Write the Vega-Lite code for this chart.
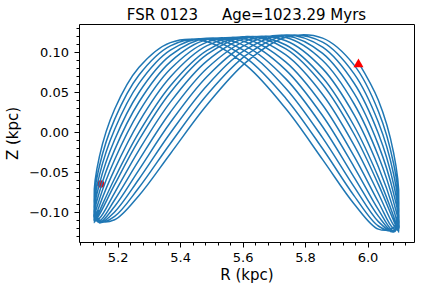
{
"$schema": "https://vega.github.io/schema/vega-lite/v6.json",
"width": 335, "height": 218,
"autosize": "none",
"padding": {"left": 79, "top": 24, "right": 7, "bottom": 48},
"title": {"text": "FSR 0123\u00a0\u00a0\u00a0\u00a0\u00a0Age=1023.29 Myrs", "fontSize": 15, "fontWeight": "normal", "font": "DejaVu Sans", "color": "#000", "anchor": "middle", "frame": "group", "offset": 5, "baseline": "alphabetic", "dy": 16},
"config": {
 "font": "DejaVu Sans",
 "view": {"stroke": "#000", "strokeWidth": 1},
 "axis": {"grid": false, "domain": false, "tickColor": "#000", "tickWidth": 1, "labelColor": "#000", "labelFontSize": 13, "labelFont": "DejaVu Sans", "titleFont": "DejaVu Sans", "titleFontSize": 15, "titleFontWeight": "normal", "titleColor": "#000"}
},
"datasets": {
 "marks": [{"kind": "start", "R": 5.146, "z": -0.0646}, {"kind": "end", "R": 5.971, "z": 0.0868}],
 "orbit": [
{"n":23,"R":5.1416,"z":-0.097},{"n":24,"R":5.125,"z":-0.113},{"n":25,"R":5.1416,"z":-0.0987},{"n":26,"R":5.1903,"z":-0.0577},{"n":27,"R":5.2678,"z":-0.0004},{"n":28,"R":5.3688,"z":0.0582},{"n":29,"R":5.4863,"z":0.1024},{"n":30,"R":5.6125,"z":0.1198},{"n":31,"R":5.7387,"z":0.1044},{"n":32,"R":5.8563,"z":0.0598},{"n":33,"R":5.9572,"z":-0.0024},{"n":34,"R":6.0347,"z":-0.0651},{"n":35,"R":6.0834,"z":-0.1101},{"n":36,"R":6.1,"z":-0.1249},{"n":37,"R":6.0834,"z":-0.1049},{"n":38,"R":6.0347,"z":-0.056},{"n":39,"R":5.9572,"z":0.0079},{"n":40,"R":5.8563,"z":0.0685},{"n":41,"R":5.7387,"z":0.1092},{"n":42,"R":5.6125,"z":0.1195},{"n":43,"R":5.4863,"z":0.0973},{"n":44,"R":5.3688,"z":0.0498},{"n":45,"R":5.2678,"z":-0.0098},{"n":46,"R":5.1903,"z":-0.0655},{"n":47,"R":5.1416,"z":-0.1029},
{"n":48,"R":5.125,"z":-0.1125},{"n":49,"R":5.1416,"z":-0.0918},{"n":50,"R":5.1903,"z":-0.0463},{"n":51,"R":5.2678,"z":0.0125},{"n":52,"R":5.3688,"z":0.0691},{"n":53,"R":5.4863,"z":0.1083},{"n":54,"R":5.6125,"z":0.1189},{"n":55,"R":5.7387,"z":0.0967},{"n":56,"R":5.8563,"z":0.0473},{"n":57,"R":5.9572,"z":-0.0163},{"n":58,"R":6.0347,"z":-0.0765},{"n":59,"R":6.0834,"z":-0.1161},{"n":60,"R":6.1,"z":-0.1235},{"n":61,"R":6.0834,"z":-0.0966},{"n":62,"R":6.0347,"z":-0.043},{"n":63,"R":5.9572,"z":0.0218},{"n":64,"R":5.8563,"z":0.0796},{"n":65,"R":5.7387,"z":0.1145},{"n":66,"R":5.6125,"z":0.1178},{"n":67,"R":5.4863,"z":0.0893},{"n":68,"R":5.3688,"z":0.0377},{"n":69,"R":5.2678,"z":-0.0226},{"n":70,"R":5.1903,"z":-0.0756},{"n":71,"R":5.1416,"z":-0.1076},
{"n":72,"R":5.125,"z":-0.1105},{"n":73,"R":5.1416,"z":-0.0838},{"n":74,"R":5.1903,"z":-0.0343},{"n":75,"R":5.2678,"z":0.0252},{"n":76,"R":5.3688,"z":0.0791},{"n":77,"R":5.4863,"z":0.1128},{"n":78,"R":5.6125,"z":0.1164},{"n":79,"R":5.7387,"z":0.0878},{"n":80,"R":5.8563,"z":0.0342},{"n":81,"R":5.9572,"z":-0.03},{"n":82,"R":6.0347,"z":-0.0871},{"n":83,"R":6.0834,"z":-0.1205},{"n":84,"R":6.1,"z":-0.1205},{"n":85,"R":6.0834,"z":-0.087},{"n":86,"R":6.0347,"z":-0.0296},{"n":87,"R":5.9572,"z":0.0354},{"n":88,"R":5.8563,"z":0.0897},{"n":89,"R":5.7387,"z":0.1184},{"n":90,"R":5.6125,"z":0.1146},{"n":91,"R":5.4863,"z":0.08},{"n":92,"R":5.3688,"z":0.0251},{"n":93,"R":5.2678,"z":-0.0351},{"n":94,"R":5.1903,"z":-0.0846},{"n":95,"R":5.1416,"z":-0.1108},
{"n":96,"R":5.125,"z":-0.1072},{"n":97,"R":5.1416,"z":-0.0748},{"n":98,"R":5.1903,"z":-0.0219},{"n":99,"R":5.2678,"z":0.0376},{"n":100,"R":5.3688,"z":0.0881},{"n":101,"R":5.4863,"z":0.1159},{"n":102,"R":5.6125,"z":0.1125},{"n":103,"R":5.7387,"z":0.0778},{"n":104,"R":5.8563,"z":0.0207},{"n":105,"R":5.9572,"z":-0.0434},{"n":106,"R":6.0347,"z":-0.0966},{"n":107,"R":6.0834,"z":-0.1234},{"n":108,"R":6.1,"z":-0.116},{"n":109,"R":6.0834,"z":-0.0763},{"n":110,"R":6.0347,"z":-0.0157},{"n":111,"R":5.9572,"z":0.0486},{"n":112,"R":5.8563,"z":0.0986},{"n":113,"R":5.7387,"z":0.1208},{"n":114,"R":5.6125,"z":0.11},{"n":115,"R":5.4863,"z":0.0698},{"n":116,"R":5.3688,"z":0.0122},{"n":117,"R":5.2678,"z":-0.0472},{"n":118,"R":5.1903,"z":-0.0927},{"n":119,"R":5.1416,"z":-0.1127},
{"n":120,"R":5.125,"z":-0.1025},{"n":121,"R":5.1416,"z":-0.0648},{"n":122,"R":5.1903,"z":-0.0093},{"n":123,"R":5.2678,"z":0.0495},{"n":124,"R":5.3688,"z":0.0961},{"n":125,"R":5.4863,"z":0.1175},{"n":126,"R":5.6125,"z":0.1072},{"n":127,"R":5.7387,"z":0.0668},{"n":128,"R":5.8563,"z":0.007},{"n":129,"R":5.9572,"z":-0.0562},{"n":130,"R":6.0347,"z":-0.1048},{"n":131,"R":6.0834,"z":-0.1247},{"n":132,"R":6.1,"z":-0.11},{"n":133,"R":6.0834,"z":-0.0648},{"n":134,"R":6.0347,"z":-0.0016},{"n":135,"R":5.9572,"z":0.0613},{"n":136,"R":5.8563,"z":0.1064},{"n":137,"R":5.7387,"z":0.1217},{"n":138,"R":5.6125,"z":0.104},{"n":139,"R":5.4863,"z":0.0586},{"n":140,"R":5.3688,"z":-0.0008},{"n":141,"R":5.2678,"z":-0.0586},{"n":142,"R":5.1903,"z":-0.0995},{"n":143,"R":5.1416,"z":-0.1132},
{"n":144,"R":5.125,"z":-0.0965},{"n":145,"R":5.1416,"z":-0.0539},{"n":146,"R":5.1903,"z":0.0035},{"n":147,"R":5.2678,"z":0.0608},{"n":148,"R":5.3688,"z":0.1027},{"n":149,"R":5.4863,"z":0.1176},{"n":150,"R":5.6125,"z":0.1005},{"n":151,"R":5.7387,"z":0.0549},{"n":152,"R":5.8563,"z":-0.0069},{"n":153,"R":5.9572,"z":-0.0682},{"n":154,"R":6.0347,"z":-0.1116},{"n":155,"R":6.0834,"z":-0.1244},{"n":156,"R":6.1,"z":-0.1026},{"n":157,"R":6.0834,"z":-0.0521},{"n":158,"R":6.0347,"z":0.0125},{"n":159,"R":5.9572,"z":0.0731},{"n":160,"R":5.8563,"z":0.1128},{"n":161,"R":5.7387,"z":0.121},{"n":162,"R":5.6125,"z":0.0967},{"n":163,"R":5.4863,"z":0.0469},{"n":164,"R":5.3688,"z":-0.0139},{"n":165,"R":5.2678,"z":-0.0693},{"n":166,"R":5.1903,"z":-0.1051},{"n":167,"R":5.1416,"z":-0.1122},
{"n":168,"R":5.125,"z":-0.0893},{"n":169,"R":5.1416,"z":-0.0424},{"n":170,"R":5.1903,"z":0.0162},{"n":171,"R":5.2678,"z":0.0713},{"n":172,"R":5.3688,"z":0.1081},{"n":173,"R":5.4863,"z":0.1162},{"n":174,"R":5.6125,"z":0.0925},{"n":175,"R":5.7387,"z":0.0424},{"n":176,"R":5.8563,"z":-0.0206},{"n":177,"R":5.9572,"z":-0.0794},{"n":178,"R":6.0347,"z":-0.1171},{"n":179,"R":6.0834,"z":-0.1225},{"n":180,"R":6.1,"z":-0.0939},{"n":181,"R":6.0834,"z":-0.039},{"n":182,"R":6.0347,"z":0.0264},{"n":183,"R":5.9572,"z":0.084},{"n":184,"R":5.8563,"z":0.1177},{"n":185,"R":5.7387,"z":0.1188},{"n":186,"R":5.6125,"z":0.0881},{"n":187,"R":5.4863,"z":0.0344},{"n":188,"R":5.3688,"z":-0.0267},{"n":189,"R":5.2678,"z":-0.0792},{"n":190,"R":5.1903,"z":-0.1093},{"n":191,"R":5.1416,"z":-0.1098},
{"n":192,"R":5.125,"z":-0.0809},{"n":193,"R":5.1416,"z":-0.0304},{"n":194,"R":5.1903,"z":0.0288},{"n":195,"R":5.2678,"z":0.0809},{"n":196,"R":5.3688,"z":0.1121},{"n":197,"R":5.4863,"z":0.1133},{"n":198,"R":5.6125,"z":0.0834},{"n":199,"R":5.7387,"z":0.0294},{"n":200,"R":5.8563,"z":-0.0341},{"n":201,"R":5.9572,"z":-0.0895},{"n":202,"R":6.0347,"z":-0.121},{"n":203,"R":6.0834,"z":-0.1191},{"n":204,"R":6.1,"z":-0.0839},{"n":205,"R":6.0834,"z":-0.0253},{"n":206,"R":6.0347,"z":0.0401},{"n":207,"R":5.9692,"z":0.0883}
 ]
},
"layer": [
 {
  "data": {"name": "marks"},
  "transform": [{"filter": "datum.kind == 'start'"}],
  "mark": {"type": "point", "shape": "circle", "filled": true, "color": "#ff0000", "opacity": 1, "size": 55},
  "encoding": {
   "x": {"field": "R", "type": "quantitative", "scale": {"domain": [5.0763, 6.1488], "nice": false, "zero": false},
         "axis": {"orient": "bottom", "values": [5.08,5.12,5.16,5.24,5.28,5.32,5.36,5.44,5.48,5.52,5.56,5.64,5.68,5.72,5.76,5.84,5.88,5.92,5.96,6.04,6.08,6.12], "labels": false, "title": null, "tickSize": 3}},
   "y": {"field": "z", "type": "quantitative", "scale": {"domain": [-0.1371, 0.1354], "nice": false, "zero": false},
         "axis": {"orient": "left", "values": [-0.13,-0.12,-0.11,-0.09,-0.08,-0.07,-0.06,-0.04,-0.03,-0.02,-0.01,0.01,0.02,0.03,0.04,0.06,0.07,0.08,0.09,0.11,0.12,0.13], "labels": false, "title": null, "tickSize": 3}}
  }
 },
 {
  "data": {"name": "orbit"},
  "mark": {"type": "line", "color": "#1f77b4", "strokeWidth": 1.5, "interpolate": "catmull-rom"},
  "encoding": {
   "x": {"field": "R", "type": "quantitative", "scale": {"domain": [5.0763, 6.1488], "nice": false, "zero": false},
         "axis": {"orient": "bottom", "values": [5.2, 5.4, 5.6, 5.8, 6.0], "format": ".1f", "title": "R (kpc)", "tickSize": 5, "labelPadding": 4, "titlePadding": 3.5}},
   "y": {"field": "z", "type": "quantitative", "scale": {"domain": [-0.1371, 0.1354], "nice": false, "zero": false},
         "axis": {"orient": "left", "values": [-0.1, -0.05, 0, 0.05, 0.1], "labelExpr": "replace(format(datum.value, '.2f'), '-', '\u2212')", "title": "Z (kpc)", "tickSize": 5, "labelPadding": 5.5, "titlePadding": 8}},
   "order": {"field": "n", "type": "quantitative"}
  }
 },
 {
  "data": {"name": "marks"},
  "transform": [{"filter": "datum.kind == 'end'"}],
  "mark": {"type": "point", "shape": "triangle-up", "filled": true, "color": "#ff0000", "opacity": 1, "size": 100},
  "encoding": {
   "x": {"field": "R", "type": "quantitative", "scale": {"domain": [5.0763, 6.1488], "nice": false, "zero": false}, "axis": null},
   "y": {"field": "z", "type": "quantitative", "scale": {"domain": [-0.1371, 0.1354], "nice": false, "zero": false}, "axis": null}
  }
 }
],
"resolve": {"scale": {"x": "independent", "y": "independent"}, "axis": {"x": "independent", "y": "independent"}}
}
